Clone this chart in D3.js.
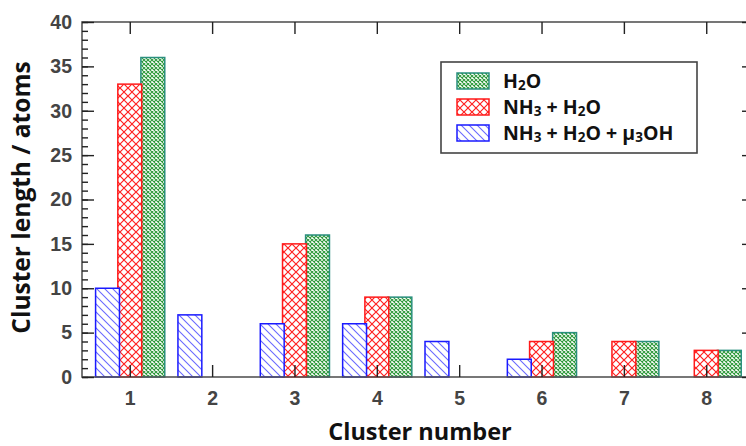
<!DOCTYPE html>
<html>
<head>
<meta charset="utf-8">
<script src="https://cdn.jsdelivr.net/npm/d3@7"></script>
<style>
  html, body { margin: 0; padding: 0; background: #fff; }
  svg { display: block; font-family: "Open Sans", "DejaVu Sans", sans-serif; }
</style>
</head>
<body>
<svg id="chart" width="746" height="446"></svg>
<script>
// Cluster numbers along the x axis
const clusters = [1, 2, 3, 4, 5, 6, 7, 8];
// Cluster lengths (atoms) per system
const h2o      = [36, 0, 16, 9, 0, 5, 4, 3];
const nh3H2o   = [33, 0, 15, 9, 0, 4, 4, 3];
const nh3H2oOh = [10, 7, 6, 6, 4, 2, 0, 0];
const yTicks = [0, 5, 10, 15, 20, 25, 30, 35, 40];

const svg = d3.select("#chart");
const mLeft = 82, mRight = 754, mTop = 22, mBottom = 377;

const x = d3.scaleLinear().domain([0.42, 8.58]).range([mLeft, mRight]);
const y = d3.scaleLinear().domain([0, 40]).range([mBottom, mTop]);

// Fill patterns
const defs = svg.append("defs");
const pg = defs.append("pattern").attr("id", "pat-green")
  .attr("patternUnits", "userSpaceOnUse").attr("width", 4).attr("height", 4);
pg.append("rect").attr("width", 4).attr("height", 4).attr("fill", "#fff");
pg.append("path").attr("d", "M0,0L4,4M4,0L0,4").attr("stroke", "#2f9a3c").attr("stroke-width", 1.1);

const pr = defs.append("pattern").attr("id", "pat-red")
  .attr("patternUnits", "userSpaceOnUse").attr("width", 8).attr("height", 8);
pr.append("rect").attr("width", 8).attr("height", 8).attr("fill", "#fff");
pr.append("path").attr("d", "M0,0L8,8M8,0L0,8").attr("stroke", "#ff2020").attr("stroke-width", 1.2);

const pb = defs.append("pattern").attr("id", "pat-blue")
  .attr("patternUnits", "userSpaceOnUse").attr("width", 8).attr("height", 8);
pb.append("rect").attr("width", 8).attr("height", 8).attr("fill", "#fff");
pb.append("path").attr("d", "M-2,-2L10,10M-2,6L2,10M6,-2L10,2").attr("stroke", "#6a6aff").attr("stroke-width", 1.1);

const bw = 0.29;   // bar width, in cluster units
const series = [
  { name: "H2O", values: h2o, off: 0.28, fill: "url(#pat-green)", stroke: "#2a8f7e" },
  { name: "NH3+H2O", values: nh3H2o, off: 0, fill: "url(#pat-red)", stroke: "#ff1a1a" },
  { name: "NH3+H2O+u3OH", values: nh3H2oOh, off: -0.27, fill: "url(#pat-blue)", stroke: "#1a1aff" }
];

const plot = svg.append("g");
series.forEach(s => {
  plot.append("g").selectAll("rect")
    .data(clusters.map((c, i) => ({ c, v: s.values[i] })).filter(d => d.v > 0))
    .join("rect")
    .attr("x", d => x(d.c + s.off - bw / 2))
    .attr("width", x(bw) - x(0))
    .attr("y", d => y(d.v))
    .attr("height", d => y(0) - y(d.v))
    .attr("fill", s.fill)
    .attr("stroke", s.stroke)
    .attr("stroke-width", 1.5);
});

// Frame
const frameColor = "#555";
svg.append("rect").attr("x", mLeft).attr("y", mTop)
  .attr("width", mRight - mLeft).attr("height", mBottom - mTop)
  .attr("fill", "none").attr("stroke", frameColor).attr("stroke-width", 1.6);

// Axes with inward ticks
const minor = d3.range(0, 41, 1);
const tickCol = "#222";
const labelCol = "#444";
function styleAxis(g) {
  g.select(".domain").remove();
  g.selectAll(".tick line").attr("stroke", tickCol).attr("stroke-width", 1.4);
}
svg.append("g").attr("transform", `translate(0,${mBottom})`)
  .call(d3.axisBottom(x).tickValues(clusters).tickSize(-12).tickFormat(d3.format("d")).tickPadding(14))
  .call(styleAxis)
  .call(g => g.selectAll("text").attr("fill", labelCol).attr("font-size", 19.5).attr("font-weight", 700));
svg.append("g").attr("transform", `translate(0,${mTop})`)
  .call(d3.axisTop(x).tickValues(clusters).tickSize(-12).tickFormat(""))
  .call(styleAxis);
svg.append("g").attr("transform", `translate(${mLeft},0)`)
  .call(d3.axisLeft(y).tickValues(minor).tickSize(-6).tickFormat(""))
  .call(styleAxis);
svg.append("g").attr("transform", `translate(${mLeft},0)`)
  .call(d3.axisLeft(y).tickValues(yTicks).tickSize(-12).tickPadding(10).tickFormat(d3.format("d")))
  .call(styleAxis)
  .call(g => g.selectAll("text").attr("fill", labelCol).attr("font-size", 19.5).attr("font-weight", 700));
svg.append("g").attr("transform", `translate(${mRight},0)`)
  .call(d3.axisRight(y).tickValues(minor).tickSize(-6).tickFormat(""))
  .call(styleAxis);
svg.append("g").attr("transform", `translate(${mRight},0)`)
  .call(d3.axisRight(y).tickValues(yTicks).tickSize(-12).tickFormat(""))
  .call(styleAxis);

// Axis titles
svg.append("text").attr("x", 420).attr("y", 440)
  .attr("text-anchor", "middle").attr("font-size", 23.5).attr("font-weight", 700).attr("fill", "#111")
  .text("Cluster number");
svg.append("text").attr("transform", `translate(30,${(mTop + mBottom) / 2 - 2}) rotate(-90)`)
  .attr("text-anchor", "middle").attr("font-size", 24.5).attr("font-weight", 700).attr("fill", "#111")
  .text("Cluster length / atoms");

// Legend
const lg = svg.append("g");
lg.append("rect").attr("x", 441).attr("y", 62).attr("width", 256).attr("height", 91)
  .attr("fill", "#fff").attr("stroke", "#444").attr("stroke-width", 1.6);
const legendRows = [
  { s: series[0], parts: [["H", 0], ["2", 1], ["O", 0]] },
  { s: series[1], parts: [["NH", 0], ["3", 1], [" + H", 0], ["2", 1], ["O", 0]] },
  { s: series[2], parts: [["NH", 0], ["3", 1], [" + H", 0], ["2", 1], ["O + \u03bc", 0], ["3", 1], ["OH", 0]] }
];
legendRows.forEach((r, i) => {
  const cy = 81 + i * 26;
  lg.append("rect").attr("x", 457).attr("y", cy - 8).attr("width", 32).attr("height", 16)
    .attr("fill", r.s.fill).attr("stroke", r.s.stroke).attr("stroke-width", 1.5);
  const t = lg.append("text").attr("x", 503).attr("y", cy + 7)
    .attr("font-size", 19.5).attr("font-weight", 700).attr("fill", "#111");
  let prevSub = false;
  r.parts.forEach(([txt, sub]) => {
    const ts = t.append("tspan").text(txt);
    if (sub) { ts.attr("font-size", 13.5).attr("dy", 1.5); }
    else if (prevSub) { ts.attr("dy", -1.5); }
    prevSub = !!sub;
  });
});
</script>
</body>
</html>
